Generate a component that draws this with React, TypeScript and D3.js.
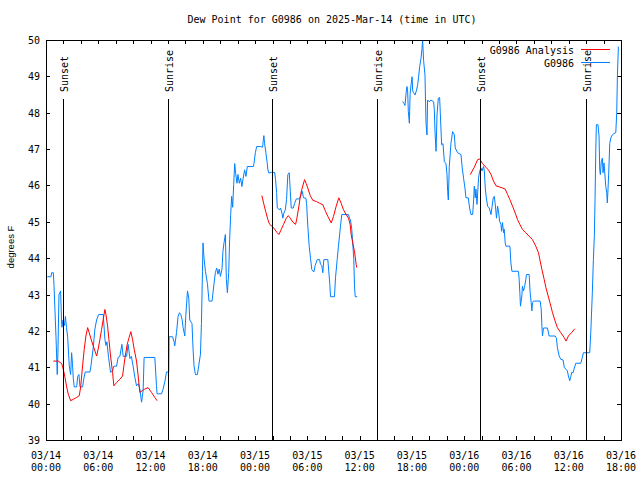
import React from "react";
import * as d3 from "d3";

// ---------- data (hours since 2025-03-14 00:00 UTC) ----------
const blueHoursA = [0.15,0.57,0.65,0.84,0.92,1.03,1.15,1.29,1.37,1.49,1.68,1.78,1.83,1.95,2.12,2.23,2.35,2.49,2.67,2.83,2.94,3.04,3.13,3.24,3.52,3.64,3.78,3.9,4.2,4.35,4.5,5.04,5.16,5.42,5.61,5.81,6.04,6.57,6.76,6.88,6.99,7.18,7.41,7.64,7.79,8.1,8.28,8.48,8.71,8.86,9.25,9.43,9.63,9.8,10.0,10.2,10.39,10.6,10.77,10.97,11.15,11.26,12.49,12.68,12.75,13.26,13.44,13.64,13.83,14.09,14.13,14.52,14.7,14.78,14.98,15.16,15.32,15.47,15.62,15.73,15.93,16.04,16.24,16.39,16.5,16.76,16.88,16.99,17.15,17.38,17.53,17.73,17.84,17.96,18.02,18.14,18.3,18.53,18.71,19.06,19.28,19.44,19.59,19.74,19.88,20.02,20.2,20.31,20.43,20.59,20.7,20.82,20.97,21.08,21.2,21.31,21.43,21.54,21.66,21.77,21.92,22.03,22.19,22.34,22.49,22.63,22.8,22.95,23.11,23.8,23.87,24.03,24.18,24.64,24.86,24.94,25.01,25.09,25.24,25.4,25.47,25.59,25.86,26.24,26.35,26.47,26.55,26.81,26.93,27.08,27.19,27.3,27.47,27.61,27.76,27.92,28.04,28.15,28.38,28.53,28.73,29.1,29.3,29.41,29.56,29.83,29.91,30.05,30.21,30.36,30.51,30.74,30.9,31.13,31.4,31.51,31.66,31.77,31.89,32.35,32.58,32.66,33.11,33.23,33.42,33.57,33.8,33.95,34.72,34.83,34.95,35.1,35.18,35.33,35.41,35.49,35.72];
const blueValuesA = [43.49,43.49,43.6,43.6,43.25,42.55,41.82,40.8,41.4,43.0,43.1,42.3,42.1,42.3,42.15,42.4,42.1,41.82,41.04,40.8,41.4,41.1,40.7,40.46,40.46,40.75,40.8,40.46,40.46,40.7,40.87,40.87,41.04,41.54,42.05,42.3,42.45,42.45,41.77,41.6,41.7,41.27,40.86,40.9,41.03,41.03,41.27,41.3,41.63,41.3,41.3,41.63,41.24,41.3,41.03,40.72,40.49,40.55,40.4,40.04,40.36,41.27,41.27,40.5,40.27,40.27,40.4,40.6,40.87,40.87,41.84,41.84,41.7,41.59,41.95,42.4,42.5,42.45,42.32,42.1,41.86,42.4,43.1,42.9,42.3,42.2,41.5,41.04,40.8,40.8,41.04,41.36,42.2,43.64,44.42,44.0,43.64,43.3,42.82,42.82,43.29,43.6,43.73,43.56,43.7,43.5,43.7,44.19,44.42,44.65,43.42,43.05,43.6,44.51,45.2,45.7,45.4,46.02,46.6,46.33,46.06,46.3,46.06,46.2,45.97,46.2,46.43,46.25,46.52,46.52,46.6,46.9,47.07,47.07,47.05,47.24,47.37,47.15,46.9,46.6,46.43,46.34,46.36,46.36,46.16,45.8,45.38,45.33,45.38,45.24,45.1,45.24,45.33,45.61,46.3,46.35,45.84,45.38,45.38,45.5,45.63,45.63,45.75,45.84,45.66,45.65,45.5,44.88,44.33,44.0,43.69,43.62,43.8,43.96,43.96,43.83,43.8,43.6,43.96,43.96,43.28,42.94,42.94,43.46,43.96,44.33,44.88,45.2,45.2,45.1,45.05,44.79,44.51,43.96,43.23,42.94,42.94];

const blueHoursB = [40.94,41.1,41.21,41.33,41.44,41.51,41.59,41.71,41.79,41.9,42.02,42.09,42.2,42.36,42.51,42.66,42.77,42.89,43.05,43.16,43.23,43.34,43.5,43.62,43.73,43.8,44.0,44.19,44.49,44.57,44.65,44.77,44.88,45.03,45.18,45.26,45.41,45.57,45.72,45.91,46.03,46.1,46.18,46.29,46.48,46.67,46.86,46.98,47.24,47.63,47.78,47.93,48.09,48.2,48.47,48.62,48.78,48.97,49.08,49.16,49.27,49.35,49.47,49.65,49.77,49.93,50.05,50.16,50.23,50.31,50.42,50.54,50.69,50.88,51.08,51.19,51.34,51.45,51.56,51.71,51.83,51.94,52.06,52.22,52.29,52.4,52.52,52.59,52.71,52.79,53.25,53.36,53.48,54.23,54.31,54.39,54.46,54.62,54.69,54.81,54.92,55.08,55.15,55.46,55.57,55.69,55.77,55.84,55.96,56.72,56.84,56.92,56.99,57.1,57.56,57.75,58.44,58.59,58.7,58.9,59.09,59.35,59.5,59.66,59.85,59.96,60.12,60.24,60.35,60.5,60.61,60.81,61.38,61.56,61.68,62.41,62.53,62.71,62.83,62.94,63.02,63.1,63.17,63.36,63.48,63.56,63.63,63.74,63.86,63.94,64.05,64.25,64.36,64.43,64.51,64.59,64.71,64.86,65.01,65.2,65.4,65.51,65.59,65.7];
const blueValuesB = [48.31,48.25,48.2,48.54,48.72,48.6,48.03,47.71,48.5,48.77,48.99,48.6,48.55,48.49,48.6,48.77,48.99,49.27,49.5,49.77,50.0,49.44,49.04,47.71,47.39,48.35,48.3,48.35,48.3,48.1,47.48,46.94,47.94,48.4,48.42,47.99,47.12,47.15,46.66,46.6,46.3,45.84,45.6,46.52,47.16,47.48,47.4,47.03,46.9,46.85,46.48,46.2,45.93,45.66,45.66,45.38,45.2,45.2,45.57,45.98,45.66,45.9,45.48,46.2,46.39,46.48,46.4,46.48,46.52,46.4,45.93,45.66,45.43,45.38,45.2,45.4,45.66,45.7,45.5,45.1,45.43,45.3,45.02,44.93,44.74,44.98,44.7,44.8,44.42,44.33,44.33,43.87,43.64,43.64,43.42,43.05,42.68,42.96,43.23,43.1,43.2,43.42,43.55,43.55,43.05,42.78,42.55,42.78,42.82,42.82,42.6,42.13,41.86,42.08,42.08,41.86,41.86,41.8,41.54,41.31,41.22,41.2,40.99,40.95,40.9,40.76,40.63,40.75,40.86,40.85,40.95,41.11,41.11,41.27,41.4,41.4,41.95,43.05,43.96,44.6,45.61,46.89,47.67,47.67,47.36,46.43,46.3,46.66,46.75,46.35,46.62,45.98,45.8,45.52,45.9,46.34,47.16,47.33,47.39,47.43,47.45,47.99,49.04,49.82];

const redHoursA = [0.84,1.41,1.8,1.98,2.18,2.37,2.56,2.83,3.13,3.52,3.82,3.98,4.2,4.39,4.58,4.78,4.96,5.24,5.42,5.61,5.81,5.99,6.19,6.38,6.57,6.76,6.88,7.07,7.22,7.41,7.64,7.79,8.1,8.48,8.79,8.94,9.09,9.32,9.54,9.74,9.93,10.12,10.39,10.58,10.77,11.08,11.34,11.72,12.11,12.49,12.75];
const redValuesA = [41.17,41.17,41.1,40.95,40.72,40.46,40.26,40.08,40.12,40.17,40.22,40.46,41.04,41.5,41.86,42.09,41.95,41.72,41.59,41.45,41.31,41.5,41.77,42.04,42.32,42.59,42.45,42.13,41.77,41.31,40.86,40.49,40.58,40.67,40.76,41.04,41.3,41.63,41.82,41.98,41.77,41.5,41.17,40.76,40.31,40.36,40.4,40.44,40.31,40.17,40.08];

const redHoursB = [24.78,24.98,25.21,25.47,25.67,25.98,26.24,26.5,26.73,27.0,27.27,27.58,27.81,28.04,28.34,28.65,28.8,29.03,29.22,29.41,29.68,29.87,30.05,30.33,30.63,31.02,31.4,31.78,32.08,32.35,32.74,33.0,33.31,33.61,33.88,34.15,34.45,34.72,34.91,35.03,35.21,35.41,35.6,35.67];
const redValuesB = [45.72,45.51,45.29,45.06,44.93,44.87,44.8,44.71,44.65,44.79,44.93,45.1,45.17,45.1,44.99,44.93,45.1,45.43,45.75,45.93,46.16,46.05,45.93,45.72,45.59,45.56,45.51,45.47,45.29,45.15,44.97,45.15,45.43,45.66,45.51,45.33,45.2,45.1,44.93,44.65,44.42,44.19,43.83,43.74];

const redHoursC = [48.7,49.16,49.54,49.77,50.11,50.5,50.8,51.08,51.37,51.65,52.03,52.4,52.71,52.98,53.25,53.55,53.86,54.12,54.39,54.69,55.08,55.46,55.84,56.22,56.53,56.72,56.92,57.18,57.38,57.64,57.84,58.14,58.44,58.7,59.09,59.47,59.7,59.96,60.35,60.7];
const redValuesC = [46.3,46.5,46.71,46.73,46.6,46.5,46.42,46.3,46.12,45.99,45.96,45.93,45.9,45.75,45.61,45.43,45.24,45.06,44.93,44.79,44.7,44.6,44.51,44.33,44.15,43.92,43.69,43.42,43.19,42.96,42.78,42.5,42.27,42.09,41.95,41.82,41.72,41.86,41.96,42.06];

const sunLabels = ["Sunset", "Sunrise", "Sunset", "Sunrise", "Sunset", "Sunrise"];
const sunHours = [1.91, 14.04, 25.9, 38.04, 49.85, 62.0];

const yTicks = [39, 40, 41, 42, 43, 44, 45, 46, 47, 48, 49, 50];
const seriesNames = ["G0986 Analysis", "G0986"];
const seriesColors = ["#ff0000", "#0080ff"];

const TITLE = "Dew Point for G0986 on 2025-Mar-14 (time in UTC)";
const Y_LABEL = "degrees F";

const START = Date.UTC(2025, 2, 14, 0, 0);
const END = Date.UTC(2025, 2, 16, 18, 0);
const H = 3600 * 1000;

const MONO = "'DejaVu Sans Mono', 'Liberation Mono', monospace";

export default function App() {
  const left = 46, right = 621, top = 40, bottom = 440;
  const x = d3.scaleUtc().domain([new Date(START), new Date(END)]).range([left, right]);
  const y = d3.scaleLinear().domain([39, 50]).range([bottom, top]);

  const toPts = (hs: number[], vs: number[]) => hs.map((h, i) => [new Date(START + h * H), vs[i]] as [Date, number]);
  const line = d3.line<[Date, number]>().x(d => x(d[0])).y(d => y(d[1]));

  const redSegs = [toPts(redHoursA, redValuesA), toPts(redHoursB, redValuesB), toPts(redHoursC, redValuesC)];
  const blueSegs = [toPts(blueHoursA, blueValuesA), toPts(blueHoursB, blueValuesB)];

  const xTicks = d3.utcHour.every(2)!.range(new Date(START), new Date(END + 1));
  const labelTicks = d3.utcHour.every(6)!.range(new Date(START), new Date(END + 1));
  const fmtDate = d3.utcFormat("%m/%d");
  const fmtTime = d3.utcFormat("%H:%M");
  const tl = 4;

  return (
    <svg width={640} height={480} style={{ display: "block", position: "absolute", left: 0, top: 0, background: "#fff" }}>
      <rect x={0} y={0} width={640} height={480} fill="#fff" />
      <text x={332} y={23} textAnchor="middle" fontFamily={MONO} fontSize={10} fill="#000">{TITLE}</text>

      {/* y axis ticks & labels */}
      {yTicks.map(t => (
        <g key={"y" + t}>
          <line x1={left} x2={left + tl} y1={Math.round(y(t)) + 0.5} y2={Math.round(y(t)) + 0.5} stroke="#000" shapeRendering="crispEdges" />
          <line x1={right - tl} x2={right} y1={Math.round(y(t)) + 0.5} y2={Math.round(y(t)) + 0.5} stroke="#000" shapeRendering="crispEdges" />
          <text x={40} y={y(t) + 4} textAnchor="end" fontFamily={MONO} fontSize={10} fill="#000">{t}</text>
        </g>
      ))}

      {/* x axis ticks */}
      {xTicks.map(t => (
        <g key={"x" + t.getTime()}>
          <line x1={Math.round(x(t)) + 0.5} x2={Math.round(x(t)) + 0.5} y1={bottom} y2={bottom - tl} stroke="#000" shapeRendering="crispEdges" />
          <line x1={Math.round(x(t)) + 0.5} x2={Math.round(x(t)) + 0.5} y1={top} y2={top + tl} stroke="#000" shapeRendering="crispEdges" />
        </g>
      ))}
      {labelTicks.map(t => (
        <g key={"xl" + t.getTime()}>
          <text x={x(t)} y={458.5} textAnchor="middle" fontFamily={MONO} fontSize={10} fill="#000">{fmtDate(t)}</text>
          <text x={x(t)} y={470.5} textAnchor="middle" fontFamily={MONO} fontSize={10} fill="#000">{fmtTime(t)}</text>
        </g>
      ))}

      <text transform={`translate(14,${(top + bottom) / 2 + 7}) rotate(-90)`} textAnchor="middle" fontFamily="'Liberation Sans', Arial, sans-serif" fontSize={9.5} fill="#000">{Y_LABEL}</text>

      {/* data */}
      {blueSegs.map((s, i) => (
        <path key={"b" + i} d={line(s) || ""} fill="none" stroke={seriesColors[1]} strokeWidth={1} />
      ))}
      {redSegs.map((s, i) => (
        <path key={"r" + i} d={line(s) || ""} fill="none" stroke={seriesColors[0]} strokeWidth={1} />
      ))}

      {/* sunrise / sunset */}
      {sunHours.map((h, i) => {
        const sx = Math.round(x(new Date(START + h * H))) + 0.5;
        return (
          <g key={"s" + i}>
            <line x1={sx} x2={sx} y1={99} y2={bottom} stroke="#000" shapeRendering="crispEdges" />
            <text transform={`translate(${sx + 4},92) rotate(-90)`} textAnchor="start" fontFamily={MONO} fontSize={10} fill="#000">{sunLabels[i]}</text>
          </g>
        );
      })}

      {/* legend */}
      {seriesNames.map((n, i) => (
        <g key={"l" + i}>
          <text x={574} y={53.5 + i * 13} textAnchor="end" fontFamily={MONO} fontSize={10} fill="#000">{n}</text>
          <line x1={581} x2={610} y1={49.5 + i * 13} y2={49.5 + i * 13} stroke={seriesColors[i]} shapeRendering="crispEdges" />
        </g>
      ))}

      <rect x={left + 0.5} y={top + 0.5} width={right - left} height={bottom - top} fill="none" stroke="#000" shapeRendering="crispEdges" />
    </svg>
  );
}
